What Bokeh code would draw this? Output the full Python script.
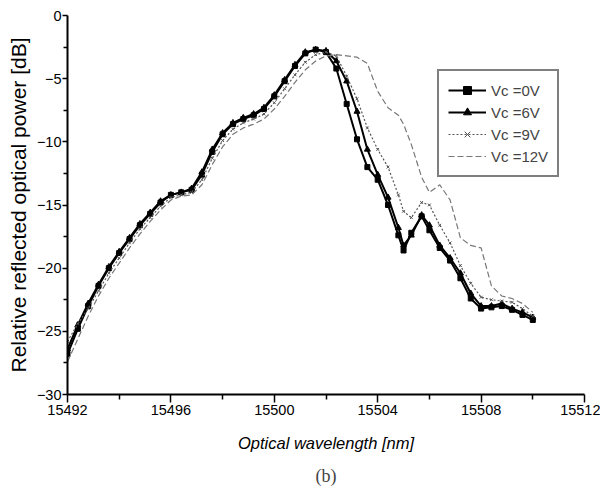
from bokeh.plotting import figure
from bokeh.models import Legend, LegendItem, Title, FixedTicker, Range1d
from bokeh.embed import file_html
from bokeh.resources import INLINE

# ---- data ----
wavelength = [15492.0, 15492.4, 15492.8, 15493.2, 15493.6, 15494.0, 15494.4, 15494.8,
              15495.2, 15495.6, 15496.0, 15496.4, 15496.8, 15497.2, 15497.6, 15498.0,
              15498.4, 15498.8, 15499.2, 15499.6, 15500.0, 15500.4, 15500.8, 15501.2,
              15501.6, 15502.0, 15502.4, 15502.8, 15503.2, 15503.6, 15504.0, 15504.4,
              15504.8, 15505.0, 15505.3, 15505.7, 15506.0, 15506.4, 15506.8, 15507.2,
              15507.6, 15508.0, 15508.4, 15508.8, 15509.2, 15509.6, 15510.0]

power_0v = [-26.8, -24.8, -23.0, -21.4, -20.0, -18.8, -17.7, -16.6, -15.7, -14.8,
            -14.2, -14.0, -13.8, -12.6, -10.8, -9.4, -8.6, -8.2, -7.9, -7.4,
            -6.4, -5.2, -4.0, -3.0, -2.7, -2.9, -4.2, -7.0, -9.8, -12.0,
            -13.0, -15.0, -17.4, -18.6, -17.2, -15.9, -17.0, -18.4, -19.4, -20.8,
            -22.4, -23.2, -23.1, -23.0, -23.3, -23.7, -24.1]

power_6v = [-26.4, -24.5, -22.8, -21.3, -19.9, -18.7, -17.6, -16.5, -15.6, -14.7,
            -14.2, -14.0, -13.7, -12.4, -10.6, -9.3, -8.5, -8.1, -7.8, -7.3,
            -6.3, -5.1, -3.9, -2.9, -2.7, -2.8, -3.6, -5.2, -7.6, -10.6,
            -12.6, -14.4, -16.8, -18.2, -17.4, -15.8, -16.6, -18.2, -19.2, -20.4,
            -22.0, -23.0, -23.0, -22.8, -23.2, -23.5, -23.9]

power_9v = [-25.8, -24.4, -23.2, -21.8, -20.4, -19.2, -18.0, -16.9, -16.0, -15.1,
            -14.4, -14.2, -14.0, -13.0, -11.3, -9.9, -9.0, -8.5, -8.2, -7.8,
            -6.9, -5.8, -4.7, -3.7, -3.1, -2.9, -3.2, -4.8, -6.6, -8.9,
            -10.6, -12.0, -14.2, -15.5, -16.0, -14.8, -15.0, -16.6, -18.0, -19.8,
            -21.2, -22.3, -22.5, -22.6, -22.7, -23.2, -23.8]

power_12v = [-27.4, -25.6, -23.8, -22.2, -20.8, -19.6, -18.4, -17.3, -16.3, -15.4,
             -14.6, -14.3, -14.2, -13.4, -11.8, -10.4, -9.4, -8.9, -8.6, -8.2,
             -7.4, -6.4, -5.3, -4.3, -3.6, -3.2, -3.1, -3.2, -3.3, -3.8,
             -6.0, -7.3, -7.9, -8.6, -10.2, -12.8, -14.0, -13.4, -14.6, -17.6,
             -18.2, -18.4, -21.4, -22.2, -22.4, -22.8, -23.5]

x_ticks = [15492, 15496, 15500, 15504, 15508, 15512]
x_minor = [15494, 15498, 15502, 15506, 15510]
y_ticks = [0, -5, -10, -15, -20, -25, -30]
y_minor = [-2.5, -7.5, -12.5, -17.5, -22.5, -27.5]
labels = ["Vc =0V", "Vc =6V", "Vc =9V", "Vc =12V"]

FONT = "Liberation Sans"

p = figure(width=600, height=494, x_range=Range1d(15492, 15512), y_range=Range1d(-30, 0),
           output_backend="svg", toolbar_location=None,
           min_border_left=67, min_border_top=15, min_border_right=16, min_border_bottom=99)
p.outline_line_color = None
p.xgrid.visible = False
p.ygrid.visible = False
p.background_fill_color = "white"

# series
l0 = p.line(wavelength, power_0v, line_color="black", line_width=2)
s0 = p.scatter(wavelength, power_0v, marker="square", size=5, color="black")
l6 = p.line(wavelength, power_6v, line_color="black", line_width=2)
s6 = p.scatter(wavelength, power_6v, marker="triangle", size=6, color="black")
l9 = p.line(wavelength, power_9v, line_color="#555555", line_width=1.2, line_dash="2 2")
s9 = p.scatter(wavelength, power_9v, marker="x", size=4, line_color="#555555")
l12 = p.line(wavelength, power_12v, line_color="#777777", line_width=1.2, line_dash="6 3")

# axes
for ax in (p.xaxis[0], p.yaxis[0]):
    ax.axis_line_width = 2
    ax.axis_line_color = "black"
    ax.major_tick_line_width = 1.5
    ax.minor_tick_line_width = 1.5
    ax.major_tick_in = 0
    ax.minor_tick_in = 0
    ax.major_label_text_font = FONT
    ax.major_label_text_font_size = "14.5px"
    ax.major_label_text_color = "black"
    ax.axis_label_text_font = FONT
    ax.axis_label_text_color = "black"

p.xaxis.ticker = FixedTicker(ticks=x_ticks, minor_ticks=x_minor)
p.yaxis.ticker = FixedTicker(ticks=y_ticks, minor_ticks=y_minor)
p.xaxis.major_tick_out = 8
p.xaxis.minor_tick_out = 5
p.yaxis.major_tick_out = 5
p.yaxis.minor_tick_out = 4
p.xaxis.major_label_standoff = 2
p.yaxis.major_label_standoff = 1

p.xaxis.axis_label = "Optical wavelength [nm]"
p.xaxis.axis_label_text_font_size = "16.5px"
p.xaxis.axis_label_text_font_style = "italic"
p.xaxis.axis_label_standoff = 16

p.yaxis.axis_label = "Relative reflected optical power [dB]"
p.yaxis.axis_label_text_font_size = "21px"
p.yaxis.axis_label_text_font_style = "normal"
p.yaxis.axis_label_standoff = 4

# "(b)" caption below
p.add_layout(Title(text="(b)", align="center", text_font="Liberation Serif",
                   text_font_size="18px", text_font_style="normal", standoff=18), "below")

legend = Legend(items=[
    LegendItem(label=labels[0], renderers=[l0, s0]),
    LegendItem(label=labels[1], renderers=[l6, s6]),
    LegendItem(label=labels[2], renderers=[l9, s9]),
    LegendItem(label=labels[3], renderers=[l12]),
], location=(370, 217))
legend.border_line_color = "black"
legend.border_line_width = 2
legend.background_fill_color = "white"
legend.background_fill_alpha = 1
legend.label_text_font = FONT
legend.label_text_font_size = "15px"
legend.glyph_width = 38
legend.label_height = 18
legend.spacing = 2
legend.padding = 9
legend.margin = 0
p.add_layout(legend)

open("out.html", "w").write(file_html(p, INLINE))
